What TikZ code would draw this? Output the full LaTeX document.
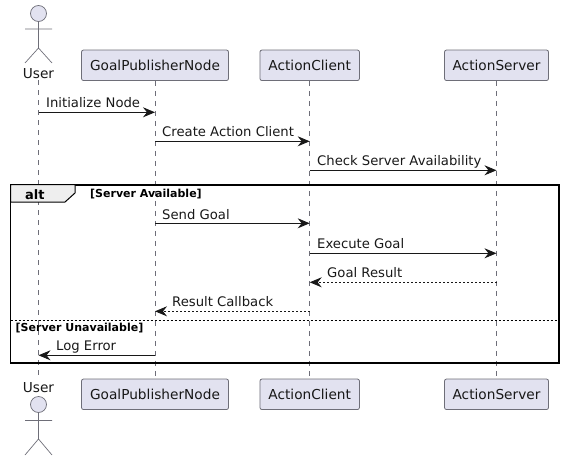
\documentclass[tikz,border=0pt]{standalone}
\usepackage{fontspec}
\setmainfont{DejaVu Sans}
\usetikzlibrary{arrows.meta}
\definecolor{partfill}{HTML}{E2E2F0}
\definecolor{partline}{HTML}{6E6E78}
\definecolor{inkdark}{HTML}{181818}
\definecolor{tabfill}{HTML}{EEEEEE}
\tikzset{
  part/.style={draw=partline,fill=partfill,rounded corners=2pt,line width=0.8pt,minimum height=30.5pt,inner sep=0pt,text=inkdark,font=\fontsize{13.7}{13.7}\selectfont},
  actorname/.style={inner sep=2pt,anchor=base,text=inkdark,font=\fontsize{13.7}{13.7}\selectfont},
  lifeline/.style={draw=partline,line width=0.7pt,dash pattern=on 5pt off 5pt},
  stick/.style={draw=partline,line width=0.7pt},
  msg/.style={draw=inkdark,line width=0.9pt,-{Stealth[length=12pt,width=10pt,inset=4pt]}},
  reply/.style={msg,dash pattern=on 2pt off 2pt},
  lbl/.style={anchor=base west,inner sep=0pt,text=inkdark,font=\fontsize{13.2}{13.2}\selectfont},
  guard/.style={anchor=base west,inner sep=0pt,text=black,font=\fontsize{11}{11}\selectfont\bfseries}
}

\begin{document}
\begin{tikzpicture}[x=1pt,y=-1pt]
\useasboundingbox (0,0) rectangle (564,460);
% participants
\node[actorname] (userTop) at (38.5,78) {User};
\node[part,minimum width=147pt] (gpnTop) at (155,65.3) {GoalPublisherNode};
\node[part,minimum width=99.5pt] (clientTop) at (309.7,65.3) {ActionClient};
\node[part,minimum width=104pt] (serverTop) at (496.5,65.3) {ActionServer};
\node[actorname] (userBot) at (38.5,392) {User};
\node[part,minimum width=147pt] (gpnBot) at (155,394.3) {GoalPublisherNode};
\node[part,minimum width=99.5pt] (clientBot) at (309.7,394.3) {ActionClient};
\node[part,minimum width=104pt] (serverBot) at (496.5,394.3) {ActionServer};
% lifelines
\draw[lifeline] (userTop) -- (userBot);
\draw[lifeline] (gpnTop) -- (gpnBot);
\draw[lifeline] (clientTop) -- (clientBot);
\draw[lifeline] (serverTop) -- (serverBot);
% stick men
\draw[stick,fill=partfill] (38.5,13.5) circle (8);
\draw[stick] (38.5,21.5) -- (38.5,48) (25,29) -- (52,29) (25,63) -- (38.5,48) -- (52,63);
\draw[stick,fill=partfill] (38.5,404.5) circle (8);
\draw[stick] (38.5,412.5) -- (38.5,439) (25,420.5) -- (52,420.5) (25,455) -- (38.5,439) -- (52,455);
% messages
\coordinate (m1) at (0,112.3);
\coordinate (m2) at (0,141.3);
\coordinate (m3) at (0,170.3);
\coordinate (m4) at (0,223.3);
\coordinate (m5) at (0,253.3);
\coordinate (m6) at (0,282.3);
\coordinate (m7) at (0,311.3);
\coordinate (m8) at (0,355.3);
\draw[msg] (userTop |- m1) -- (gpnTop |- m1);
\draw[msg] (gpnTop |- m2) -- (clientTop |- m2);
\draw[msg] (clientTop |- m3) -- (serverTop |- m3);
\draw[msg] (gpnTop |- m4) -- (clientTop |- m4);
\draw[msg] (clientTop |- m5) -- (serverTop |- m5);
\draw[reply] (serverTop |- m6) -- (clientTop |- m6);
\draw[reply] (clientTop |- m7) -- (gpnTop |- m7);
\draw[msg] (gpnTop |- m8) -- (userTop |- m8);
\node[lbl] (t1) at (46,107.3) {Initialize Node};
\node[lbl] (t2) at (162,136.3) {Create Action Client};
\node[lbl] (t3) at (317,165.3) {Check Server Availability};
\node[lbl] (t4) at (162,219) {Send Goal};
\node[lbl] (t5) at (317,248.3) {Execute Goal};
\node[lbl] (t6) at (327,277.3) {Goal Result};
\node[lbl] (t7) at (172,306.3) {Result Callback};
\node[lbl] (t8) at (56,350.3) {Log Error};
% alt frame
\draw[draw=black,line width=1.7pt] (10.5,184.7) rectangle (559,363.3);
\draw[draw=black,line width=1pt,fill=tabfill] (10.5,184.7) -- (75,184.7) -- (75,193) -- (65,202) -- (10.5,202) -- cycle;
\draw[draw=black,line width=0.8pt,dash pattern=on 2pt off 2pt] (10.5,320.3) -- (559,320.3);
\node[guard,font=\fontsize{13}{13}\selectfont\bfseries] (alttag) at (25,199) {alt};
\node[guard] (g1) at (90,197.5) {[Server Available]};
\node[guard] (g2) at (15.5,331) {[Server Unavailable]};
\end{tikzpicture}
\end{document}
